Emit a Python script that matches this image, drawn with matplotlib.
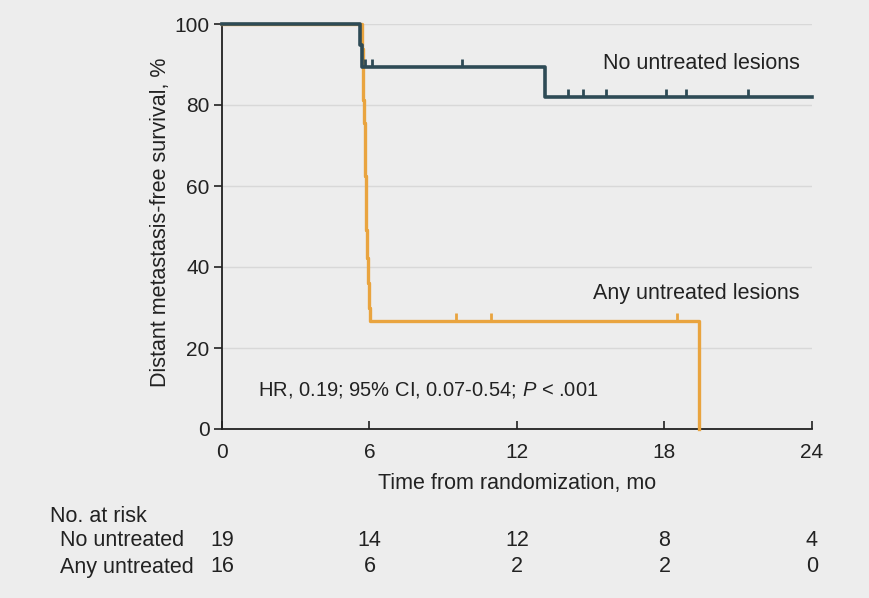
import numpy as np
import matplotlib
matplotlib.use("Agg")
import matplotlib.pyplot as plt

# step curves (time in months, survival in %)
noTimes = [0, 5.61, 5.70, 13.14, 24.0]
noSurv = [100, 94.7, 89.5, 82.0, 82.0]
noCensor = [5.80, 6.10, 9.76, 14.09, 14.70, 15.61, 18.05, 18.86, 21.39]

anyTimes = [0, 5.70, 5.72, 5.74, 5.78, 5.80, 5.82, 5.84, 5.86, 5.90, 5.94, 5.98, 6.02, 19.40]
anySurv = [100, 93.8, 87.5, 81.3, 75.6, 69.4, 62.5, 56.3, 49.1, 42.2, 36.0, 30.0, 26.7, 0]
anyCensor = [9.52, 10.94, 18.51]

riskTimes = [0, 6, 12, 18, 24]
riskNo = [19, 14, 12, 8, 4]
riskAny = [16, 6, 2, 2, 0]

teal = '#2E4B56'
orange = '#E9A43F'
bg = '#EDEDED'
ink = '#222222'

fam = 'Liberation Sans'
plt.rcParams['font.family'] = [fam, 'DejaVu Sans']
plt.rcParams['mathtext.fontset'] = 'custom'
plt.rcParams['mathtext.it'] = fam + ':italic'
plt.rcParams['mathtext.rm'] = fam

fig = plt.figure(figsize=(8.7, 5.98), dpi=100, facecolor=bg)
ax = fig.add_axes([222/870, 1-429/598, 590/870, 405/598])
ax.set_facecolor(bg)


def level_at(times, surv, t):
    i = np.searchsorted(times, t, side='right') - 1
    return surv[i]


ax.step(anyTimes, anySurv, where='post', color=orange, lw=2.4, clip_on=False, zorder=3)
ax.plot(anyCensor, [level_at(anyTimes, anySurv, t) for t in anyCensor], ls='none',
        marker=2, ms=6, mew=2, color=orange, zorder=3)
ax.step(noTimes, noSurv, where='post', color=teal, lw=2.6, clip_on=False, zorder=4)
ax.plot(noCensor, [level_at(noTimes, noSurv, t) for t in noCensor], ls='none',
        marker=2, ms=6, mew=2, color=teal, zorder=4)

ax.set_xlim(0, 24)
ax.set_ylim(0, 100)
ax.set_xticks(riskTimes)
ax.set_yticks([0, 20, 40, 60, 80, 100])
for y in [20, 40, 60, 80, 100]:
    ax.axhline(y, color='#D8D8D8', lw=1, zorder=1)
for s in ['top', 'right']:
    ax.spines[s].set_visible(False)
for s in ['left', 'bottom']:
    ax.spines[s].set_linewidth(1.3)
    ax.spines[s].set_color(ink)
ax.tick_params(axis='x', direction='in', length=6, width=1.2, labelsize=15, pad=10, colors=ink)
ax.tick_params(axis='y', direction='out', length=6, width=1.2, labelsize=15, pad=3, colors=ink)

ax.set_xlabel('Time from randomization, mo', fontsize=15.5, labelpad=8, color=ink)
ax.set_ylabel('Distant metastasis-free survival, %', fontsize=15.5, color=ink)
ax.yaxis.set_label_coords((171-222)/590, 0.51)

ax.text(15.5, 90.3, 'No untreated lesions', fontsize=15.5, color=ink, va='center')
ax.text(15.1, 33.4, 'Any untreated lesions', fontsize=15.5, color=ink, va='center')
ax.text(1.45, 9.6, r'HR, 0.19; 95% CI, 0.07-0.54; $\mathit{P}$ < .001', fontsize=14.5,
        color=ink, va='center')

# number at risk table
fig.text(50/870, 1-516/598, 'No. at risk', fontsize=15.5, va='center', color=ink)
fig.text(60/870, 1-541/598, 'No untreated', fontsize=15.5, va='center', color=ink)
fig.text(60/870, 1-567/598, 'Any untreated', fontsize=15.5, va='center', color=ink)
tr = ax.get_xaxis_transform()
for t, a, b in zip(riskTimes, riskNo, riskAny):
    ax.text(t, (429-541)/405, str(a), transform=tr, ha='center', va='center', fontsize=15.5, color=ink)
    ax.text(t, (429-567)/405, str(b), transform=tr, ha='center', va='center', fontsize=15.5, color=ink)

fig.savefig('out.png', dpi=100, facecolor=bg)
